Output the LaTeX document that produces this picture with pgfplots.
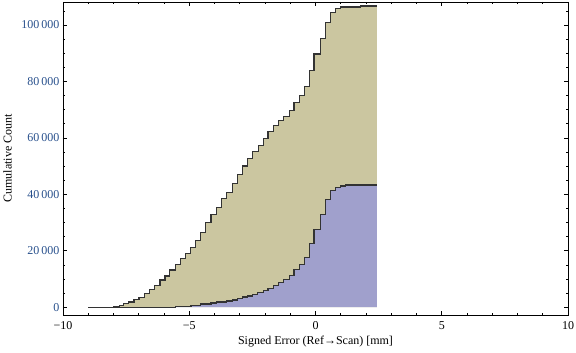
\documentclass[border=0pt]{standalone}
\usepackage{fontspec}
\setmainfont{Liberation Serif}
\usepackage{pgfplots}
\pgfplotsset{compat=1.18}
\definecolor{tanfill}{RGB}{203,198,160}
\definecolor{bluefill}{RGB}{160,160,204}
\definecolor{stepline}{RGB}{51,51,51}
\definecolor{ylab}{RGB}{40,80,140}
\begin{document}
\begin{tikzpicture}
\useasboundingbox (-63bp,-38bp) rectangle (513bp,315bp);
\begin{axis}[
  at={(0,0)}, anchor=south west,
  scale only axis, width=505bp, height=313bp,
  xmin=-10, xmax=10, ymin=-2760, ymax=108150,
  scaled x ticks=false, scaled y ticks=false,
  xtick={-10,-5,0,5,10}, xticklabels={−10,−5,0,5,10},
  minor xtick={-9,...,9},
  ytick={0,20000,40000,60000,80000,100000},
  yticklabels={0,20\,000,40\,000,60\,000,80\,000,100\,000},
  minor ytick={5000,10000,...,105000},
  tick align=inside, major tick length=4.5bp, minor tick length=2.5bp,
  every tick/.style={black, line width=0.6bp},
  axis line style={line width=0.8bp},
  xlabel={Signed Error (Ref→Scan) [mm]},
  ylabel={Cumulative Count},
  xlabel style={at={(axis description cs:0.5,-0.0863)}, anchor=center},
  ylabel style={at={(axis description cs:-0.1099,0.5)}, anchor=center},
  tick label style={font=\fontsize{12bp}{14bp}\selectfont},
  label style={font=\fontsize{12bp}{14bp}\selectfont},
  yticklabel style={color=ylab},
  xticklabel style={anchor=center, yshift=-11bp},
]
\addplot[const plot, fill=tanfill, draw=none] coordinates {
(-9.00,0) (-8.00,320) (-7.78,670) (-7.59,1240) (-7.39,1840) (-7.19,2660) (-6.99,3510) (-6.78,4930) (-6.58,6340) (-6.39,7760) (-6.16,9640) (-5.96,11060) (-5.77,13180) (-5.54,15200) (-5.34,17330) (-5.14,19100) (-4.95,21230) (-4.74,23570) (-4.54,26540) (-4.34,30090) (-4.14,32780) (-3.92,35260) (-3.71,38590) (-3.51,40720) (-3.30,43910) (-3.10,47000) (-2.89,50040) (-2.69,52760) (-2.49,55100) (-2.27,57230) (-2.07,59850) (-1.88,62190) (-1.66,64320) (-1.46,66090) (-1.27,67650) (-1.04,69770) (-0.85,72610) (-0.65,75090) (-0.45,78280) (-0.25,83810) (-0.06,89720) (0.20,95290) (0.40,100960) (0.59,104500) (0.80,105920) (1.00,106380) (1.79,106730) (2.43,106730)
} \closedcycle;
\addplot[const plot, fill=bluefill, draw=none] coordinates {
(-9.00,0) (-5.53,250) (-4.93,670) (-4.54,1130) (-4.14,1490) (-3.92,1840) (-3.52,2200) (-3.30,2550) (-3.10,3150) (-2.89,3610) (-2.69,3970) (-2.49,4570) (-2.30,5280) (-2.07,5990) (-1.88,6700) (-1.68,7760) (-1.46,8820) (-1.27,9890) (-1.04,11300) (-0.85,13430) (-0.65,15200) (-0.45,17680) (-0.25,22640) (-0.06,27600) (0.20,32920) (0.40,38240) (0.59,41420) (0.80,42490) (1.00,42950) (1.20,43300) (2.43,43300)
} \closedcycle;
\addplot[const plot, stepline, line width=1.1bp] coordinates {
(-9.00,0) (-8.00,320) (-7.78,670) (-7.59,1240) (-7.39,1840) (-7.19,2660) (-6.99,3510) (-6.78,4930) (-6.58,6340) (-6.39,7760) (-6.16,9640) (-5.96,11060) (-5.77,13180) (-5.54,15200) (-5.34,17330) (-5.14,19100) (-4.95,21230) (-4.74,23570) (-4.54,26540) (-4.34,30090) (-4.14,32780) (-3.92,35260) (-3.71,38590) (-3.51,40720) (-3.30,43910) (-3.10,47000) (-2.89,50040) (-2.69,52760) (-2.49,55100) (-2.27,57230) (-2.07,59850) (-1.88,62190) (-1.66,64320) (-1.46,66090) (-1.27,67650) (-1.04,69770) (-0.85,72610) (-0.65,75090) (-0.45,78280) (-0.25,83810) (-0.06,89720) (0.20,95290) (0.40,100960) (0.59,104500) (0.80,105920) (1.00,106380) (1.79,106730) (2.43,106730)
};
\addplot[const plot, stepline, line width=1.1bp] coordinates {
(-9.00,0) (-5.53,250) (-4.93,670) (-4.54,1130) (-4.14,1490) (-3.92,1840) (-3.52,2200) (-3.30,2550) (-3.10,3150) (-2.89,3610) (-2.69,3970) (-2.49,4570) (-2.30,5280) (-2.07,5990) (-1.88,6700) (-1.68,7760) (-1.46,8820) (-1.27,9890) (-1.04,11300) (-0.85,13430) (-0.65,15200) (-0.45,17680) (-0.25,22640) (-0.06,27600) (0.20,32920) (0.40,38240) (0.59,41420) (0.80,42490) (1.00,42950) (1.20,43300) (2.43,43300)
};
\end{axis}
\end{tikzpicture}
\end{document}
